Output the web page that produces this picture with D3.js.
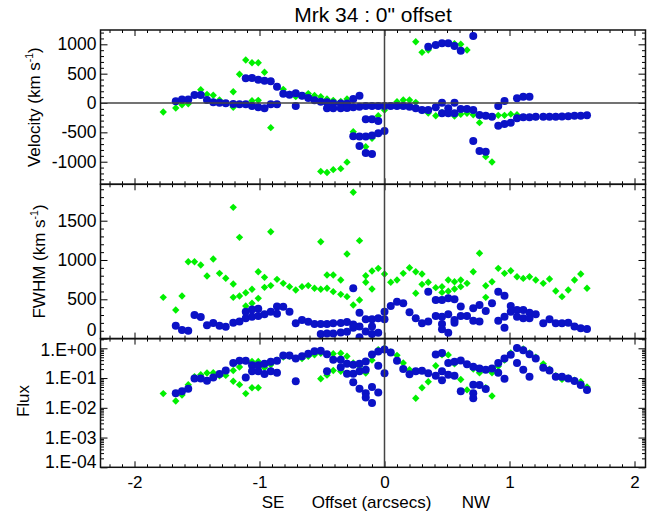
<!DOCTYPE html>
<html><head><meta charset="utf-8">
<script src="https://cdn.jsdelivr.net/npm/d3@7"></script>
<style>
body{margin:0;background:#fff}
svg{display:block}
text{font-family:"Liberation Sans",Arial,Helvetica,sans-serif;fill:#000}
</style>
</head><body>
<svg id="c" width="651" height="517"></svg>
<script>
// ---------- DATA (offset in arcsec, value) ----------
const title = "Mrk 34 : 0\" offset";
const xTickValues = [-2, -1, 0, 1, 2];
const xTickLabels = ["-2", "-1", "0", "1", "2"];
const velTickValues = [-1000, -500, 0, 500, 1000];
const fwhmTickValues = [0, 500, 1000, 1500];
const fluxTickValues = [1e-4, 1e-3, 1e-2, 1e-1, 1];
const fluxTickLabels = ["1.E-04", "1.E-03", "1.E-02", "1.E-01", "1.E+00"];

const velBlue = [[-1.67,29],[-1.62,58],[-1.57,58],[-1.52,136],[-1.47,136],[-1.42,51],[-1.37,11],[-1.32,6],[-1.27,-6],[-1.21,-17],[-1.16,-23],[-1.11,-23],[-1.11,420],[-1.06,-51],[-1.06,426],[-1.01,-74],[-1.01,398],[-0.96,-91],[-0.96,381],[-0.91,-23],[-0.91,369],[-0.86,-23],[-0.86,278],[-0.81,159],[-0.76,142],[-0.71,165],[-0.71,-51],[-0.66,125],[-0.61,85],[-0.56,45],[-0.51,23],[-0.46,15],[-0.46,-91],[-0.41,-5],[-0.41,-91],[-0.35,-8],[-0.35,-91],[-0.30,-10],[-0.30,-85],[-0.25,68],[-0.25,-74],[-0.25,-565],[-0.20,125],[-0.20,-63],[-0.20,-570],[-0.20,-733],[-0.15,-51],[-0.15,-278],[-0.15,-570],[-0.15,-850],[-0.10,-51],[-0.10,-278],[-0.10,-555],[-0.10,-870],[-0.05,-51],[-0.05,-305],[-0.05,-515],[0,-51],[0,-477],
[0.05,-51],[0.10,-51],[0.15,-51],[0.20,-63],[0.25,-91],[0.30,-119],[0.35,-119],[0.35,959],[0.41,-74],[0.41,988],[0.46,6],[0.46,-176],[0.46,1017],[0.51,-91],[0.51,-176],[0.51,1017],[0.56,6],[0.56,-176],[0.56,971],[0.61,-102],[0.61,891],[0.66,-102],[0.71,-119],[0.71,1141],[0.71,-648],[0.76,-204],[0.76,-818],[0.81,-216],[0.81,-829],[0.86,-233],[0.91,-51],[0.91,-386],[0.96,34],[0.96,-358],[1.01,-335],[1.06,80],[1.06,-261],[1.11,108],[1.11,-244],[1.16,108],[1.16,-244],[1.21,-233],[1.27,-233],[1.32,-233],[1.37,-233],[1.42,-230],[1.47,-225],[1.52,-218],[1.57,-215],[1.62,-210]];

const velGreen = [[-1.77,-153],[-1.67,-85],[-1.62,-29],[-1.57,-12],[-1.47,227],[-1.42,148],[-1.37,131],[-1.32,51],[-1.21,193],[-1.21,-73],[-1.16,489],[-1.11,733],[-1.06,687],[-1.06,40],[-1.01,687],[-1.01,45],[-0.96,523],[-0.91,-420],[-0.81,233],[-0.76,150],[-0.71,110],[-0.66,120],[-0.61,160],[-0.56,130],[-0.51,107],[-0.46,68],[-0.41,45],[-0.35,25],[-0.30,68],
[-0.51,-1165],[-0.46,-1185],[-0.41,-1135],[-0.35,-1118],[-0.30,-1008],[-0.25,-489],[-0.15,-744],[-0.10,-602],[-0.05,-216],[0,-119],
[0.10,23],[0.15,51],[0.20,51],[0.25,11],[0.25,1045],[0.30,863],[0.35,903],[0.56,1010],[0.61,1000],[0.66,903],
[0.30,-130],[0.35,-170],[0.41,-216],[0.46,-160],[0.51,-180],[0.56,-221],[0.61,-193],[0.66,-176],[0.71,-200],[0.76,-335],[0.81,-914],[0.86,-1005],[0.91,-210],[0.96,-210],[1.01,-190],[1.06,-200],[1.11,-240],[1.16,-240],[1.21,-240],[1.27,-230],[1.32,-230],[1.37,-230],[1.42,-230],[1.47,-220],[1.52,-215],[1.57,-215]];

const fwhmBlue = [[-1.67,165],[-1.62,110],[-1.57,100],[-1.52,300],[-1.47,275],[-1.42,170],[-1.37,200],[-1.32,165],[-1.27,152],[-1.21,203],[-1.16,216],[-1.11,258],[-1.11,340],[-1.06,279],[-1.06,370],[-1.01,288],[-1.01,380],[-0.96,310],[-0.91,342],[-0.86,409],[-0.86,315],[-0.81,406],[-0.76,343],[-0.71,195],[-0.66,238],[-0.61,215],[-0.56,186],[-0.51,186],[-0.51,58],[-0.46,186],[-0.46,66],[-0.41,195],[-0.41,66],[-0.35,200],[-0.35,79],[-0.30,210],[-0.30,88],[-0.25,640],[-0.25,180],[-0.25,139],[-0.20,330],[-0.20,153],[-0.20,17],[-0.15,246],[-0.15,89],[-0.10,246],[-0.10,153],[-0.10,59],[-0.05,258],[-0.05,76],[0,342],[0,246],
[0.05,415],[0.10,470],[0.15,449],[0.20,334],[0.25,258],[0.30,195],[0.35,216],[0.35,597],[0.41,288],[0.41,491],[0.46,279],[0.46,491],[0.46,186],[0.46,118],[0.51,309],[0.51,512],[0.51,76],[0.56,500],[0.56,237],[0.56,203],[0.61,407],[0.61,288],[0.66,288],[0.71,386],[0.71,228],[0.76,428],[0.76,216],[0.81,351],[0.86,449],[0.91,597],[0.91,228],[0.96,546],[0.96,279],[0.96,139],[1.01,415],[1.01,342],[1.06,364],[1.06,279],[1.11,364],[1.11,258],[1.16,330],[1.16,258],[1.21,309],[1.27,195],[1.32,246],[1.37,195],[1.42,195],[1.47,203],[1.52,153],[1.57,131],[1.62,122]];

const fwhmGreen = [[-1.77,525],[-1.67,364],[-1.62,542],[-1.57,978],[-1.52,978],[-1.47,936],[-1.42,796],[-1.37,1012],[-1.32,830],[-1.27,767],[-1.21,1670],[-1.21,694],[-1.21,525],[-1.16,1288],[-1.16,542],[-1.11,584],[-1.11,415],[-1.06,627],[-1.06,449],[-1.01,851],[-1.01,512],[-0.96,779],[-0.96,652],[-0.91,1360],[-0.91,674],[-0.86,754],[-0.81,703],[-0.76,661],[-0.71,619],[-0.66,661],[-0.61,674],[-0.56,640],[-0.51,1233],[-0.51,627],[-0.46,809],[-0.46,640],[-0.41,809],[-0.41,597],[-0.35,745],[-0.35,563],[-0.30,1076],[-0.30,534],[-0.25,1861],[-0.25,428],[-0.20,1246],[-0.20,491],[-0.15,800],[-0.15,716],[-0.10,860],[-0.10,631],[-0.05,894],[0,822],
[0.05,716],[0.10,745],[0.15,830],[0.20,902],[0.25,851],[0.25,576],[0.30,822],[0.30,690],[0.35,716],[0.41,648],[0.46,661],[0.46,588],[0.51,745],[0.51,602],[0.56,724],[0.56,631],[0.61,745],[0.61,661],[0.66,703],[0.71,851],[0.76,1085],[0.81,673],[0.81,525],[0.86,724],[0.91,894],[0.96,830],[1.01,864],[1.06,787],[1.11,766],[1.16,787],[1.21,745],[1.27,703],[1.32,758],[1.37,605],[1.42,534],[1.47,618],[1.52,745],[1.57,822],[1.62,640]];

const fluxBlue = [[-1.67,0.031],[-1.62,0.036],[-1.57,0.044],[-1.52,0.096],[-1.47,0.096],[-1.42,0.081],[-1.37,0.105],[-1.32,0.137],[-1.27,0.18],[-1.21,0.32],[-1.16,0.38],[-1.11,0.38],[-1.11,0.105],[-1.06,0.27],[-1.06,0.17],[-1.01,0.27],[-1.01,0.17],[-0.96,0.30],[-0.96,0.137],[-0.91,0.35],[-0.91,0.17],[-0.86,0.38],[-0.86,0.15],[-0.81,0.57],[-0.76,0.57],[-0.71,0.45],[-0.71,0.078],[-0.66,0.54],[-0.61,0.65],[-0.56,0.79],[-0.51,0.82],[-0.46,0.63],[-0.46,0.17],[-0.41,0.41],[-0.35,0.41],[-0.35,0.23],[-0.30,0.30],[-0.30,0.14],[-0.25,0.28],[-0.25,0.14],[-0.25,0.072],[-0.20,0.30],[-0.20,0.17],[-0.20,0.044],[-0.15,0.36],[-0.15,0.19],[-0.15,0.031],[-0.15,0.022],[-0.10,0.62],[-0.10,0.05],[-0.10,0.0145],[-0.05,0.78],[-0.05,0.26],[-0.05,0.033],[0,0.92],[0,0.145],
[0.05,0.72],[0.10,0.38],[0.15,0.2],[0.20,0.135],[0.25,0.17],[0.30,0.175],[0.35,0.145],[0.41,0.62],[0.41,0.12],[0.46,0.69],[0.46,0.17],[0.46,0.085],[0.51,0.32],[0.51,0.13],[0.56,0.35],[0.56,0.12],[0.61,0.39],[0.61,0.036],[0.66,0.29],[0.71,0.24],[0.71,0.06],[0.71,0.031],[0.71,0.021],[0.76,0.21],[0.76,0.058],[0.81,0.19],[0.81,0.043],[0.86,0.21],[0.91,0.32],[0.91,0.15],[0.96,0.45],[0.96,0.095],[1.01,0.61],[1.06,1.02],[1.06,0.32],[1.11,0.86],[1.11,0.19],[1.16,0.63],[1.16,0.11],[1.21,0.45],[1.27,0.22],[1.32,0.18],[1.37,0.11],[1.42,0.11],[1.47,0.096],[1.52,0.08],[1.57,0.058],[1.62,0.04]];

const fluxGreen = [[-1.77,0.030],[-1.67,0.017],[-1.62,0.027],[-1.57,0.060],[-1.52,0.11],[-1.47,0.13],[-1.42,0.148],[-1.37,0.15],[-1.32,0.12],[-1.27,0.123],[-1.21,0.18],[-1.21,0.078],[-1.16,0.235],[-1.16,0.060],[-1.11,0.030],[-1.06,0.36],[-1.06,0.047],[-1.01,0.36],[-1.01,0.047],[-0.96,0.22],[-0.91,0.28],[-0.86,0.4],[-0.81,0.51],[-0.76,0.54],[-0.71,0.45],[-0.66,0.45],[-0.61,0.54],[-0.56,0.61],[-0.51,0.68],[-0.51,0.095],[-0.46,0.125],[-0.41,0.66],[-0.41,0.18],[-0.35,0.68],[-0.35,0.17],[-0.30,0.54],[-0.25,0.32],[-0.20,0.25],[-0.15,0.148],[-0.10,0.4],[-0.05,0.9],[0,1.0],
[0.05,0.75],[0.10,0.58],[0.15,0.32],[0.20,0.19],[0.25,0.021],[0.30,0.047],[0.35,0.075],[0.41,0.26],[0.46,0.6],[0.51,0.6],[0.56,0.3],[0.61,0.089],[0.66,0.04],[0.71,0.2],[0.76,0.15],[0.81,0.047],[0.86,0.025],[0.86,0.15],[0.91,0.25],[0.96,0.4],[1.01,0.7],[1.06,1.05],[1.11,0.95],[1.16,0.7],[1.21,0.5],[1.27,0.3],[1.32,0.2],[1.37,0.12],[1.42,0.09],[1.47,0.1],[1.52,0.085],[1.57,0.075],[1.62,0.05]];

// ---------- LAYOUT ----------
const svg = d3.select("#c");
const L = 100.5, R = 645.5;
const T1 = 30, T2 = 184.3, T3 = 338.6, T4 = 467.3;
const BLUE = "#0b12c6", GREEN = "#00f000";

const x = d3.scaleLinear().domain([-2.272, 2.088]).range([L, R]);
const yV = d3.scaleLinear().domain([-1385, 1244]).range([T2, T1]);
const yW = d3.scaleLinear().domain([0, 1963]).range([T3, T2]);
const yF = d3.scaleLog().domain([1e-4, 2.12]).range([T4, T3]);

const xMinor = d3.range(-22, 21).map(i => i / 10).filter(v => Math.abs(v - Math.round(v)) > 1e-6);
const velMinor = d3.range(-1300, 1300, 100).filter(v => v % 500 !== 0);
const fwMinor = d3.range(100, 2000, 100).filter(v => v % 500 !== 0);
const fluxMinor = [];
[-4, -3, -2, -1, 0].forEach(e => { for (let m = 2; m <= 9; m++) { const v = m * Math.pow(10, e); if (v <= 2.12) fluxMinor.push(v); } });

function clean(g) { g.select(".domain").remove(); g.selectAll("line").attr("stroke", "#000").attr("stroke-width", 1); }

const panels = [
  {y: yV, top: T1, bot: T2, major: velTickValues, minor: velMinor, fmt: d => String(d), shiftMin: 0, shiftMax: 0},
  {y: yW, top: T2, bot: T3, major: fwhmTickValues, minor: fwMinor, fmt: d => String(d), shiftMin: -8.5, shiftMax: 0},
  {y: yF, top: T3, bot: T4, major: fluxTickValues, minor: fluxMinor, fmt: d => fluxTickLabels[fluxTickValues.indexOf(d)], shiftMin: -5, shiftMax: 2}
];

panels.forEach((p, i) => {
  const gl = svg.append("g").attr("transform", `translate(${L},0)`)
    .call(d3.axisLeft(p.y).tickValues(p.major).tickSize(-7).tickPadding(4).tickFormat(p.fmt)).call(clean);
  const dmin = p.major[0], dmax = p.major[p.major.length - 1];
  gl.selectAll("text").attr("font-size", 17.5).attr("fill", "#000")
    .attr("transform", d => d === dmin ? `translate(0,${p.shiftMin})` : (d === dmax ? `translate(0,${p.shiftMax})` : null));
  svg.append("g").attr("transform", `translate(${L},0)`)
    .call(d3.axisLeft(p.y).tickValues(p.minor).tickSize(-3.5).tickFormat("")).call(clean);
  svg.append("g").attr("transform", `translate(${R},0)`)
    .call(d3.axisRight(p.y).tickValues(p.major).tickSize(-7).tickFormat("")).call(clean);
  svg.append("g").attr("transform", `translate(${R},0)`)
    .call(d3.axisRight(p.y).tickValues(p.minor).tickSize(-3.5).tickFormat("")).call(clean);
  svg.append("g").attr("transform", `translate(0,${p.top})`)
    .call(d3.axisTop(x).tickValues(xTickValues).tickSize(-6).tickFormat("")).call(clean);
  svg.append("g").attr("transform", `translate(0,${p.top})`)
    .call(d3.axisTop(x).tickValues(xMinor).tickSize(-3).tickFormat("")).call(clean);
  const gb = svg.append("g").attr("transform", `translate(0,${p.bot})`)
    .call(d3.axisBottom(x).tickValues(xTickValues).tickSize(-6).tickPadding(9)
      .tickFormat(i === 2 ? (d => xTickLabels[xTickValues.indexOf(d)]) : "")).call(clean);
  gb.selectAll("text").attr("font-size", 17).attr("fill", "#000");
  svg.append("g").attr("transform", `translate(0,${p.bot})`)
    .call(d3.axisBottom(x).tickValues(xMinor).tickSize(-3).tickFormat("")).call(clean);
});

const diamond = {draw(ctx, size) { const h = Math.sqrt(size / 2); ctx.moveTo(0, -h); ctx.lineTo(h, 0); ctx.lineTo(0, h); ctx.lineTo(-h, 0); ctx.closePath(); }};
const dPath = d3.symbol().type(diamond).size(2 * 3.7 * 3.7)();

function drawMarks(id, top, bot, yScale, green, blue) {
  svg.append("clipPath").attr("id", id).append("rect").attr("x", L).attr("y", top).attr("width", R - L).attr("height", bot - top);
  const g = svg.append("g").attr("clip-path", `url(#${id})`);
  g.selectAll("path.g").data(green).join("path").attr("class", "g").attr("d", dPath)
    .attr("transform", d => `translate(${x(d[0])},${yScale(d[1])})`).attr("fill", GREEN);
  g.selectAll("circle").data(blue).join("circle")
    .attr("cx", d => x(d[0])).attr("cy", d => yScale(d[1])).attr("r", 4).attr("fill", BLUE);
}
drawMarks("cp1", T1, T2, yV, velGreen, velBlue);
drawMarks("cp2", T2, T3, yW, fwhmGreen, fwhmBlue);
drawMarks("cp3", T3, T4, yF, fluxGreen, fluxBlue);

svg.append("line").attr("x1", x(0)).attr("x2", x(0)).attr("y1", T1).attr("y2", T4).attr("stroke", "#444").attr("stroke-width", 1.5);
svg.append("line").attr("x1", L).attr("x2", R).attr("y1", yV(0)).attr("y2", yV(0)).attr("stroke", "#444").attr("stroke-width", 1.5);

[[T1, T2], [T2, T3], [T3, T4]].forEach(([a, b]) => {
  svg.append("rect").attr("x", L).attr("y", a).attr("width", R - L).attr("height", b - a)
    .attr("fill", "none").attr("stroke", "#111").attr("stroke-width", 1.5);
});

svg.append("text").attr("x", (L + R) / 2).attr("y", 22).attr("text-anchor", "middle").attr("font-size", 21).text(title);

function yTitle(cx, cy, main, sup) {
  const t = svg.append("text").attr("transform", `translate(${cx},${cy}) rotate(-90)`).attr("text-anchor", "middle").attr("font-size", 17);
  t.append("tspan").text(main);
  if (sup) {
    t.append("tspan").attr("font-size", 10.5).attr("dy", -7).text(sup);
    t.append("tspan").attr("dy", 7).text(")");
  }
}
yTitle(40, (T1 + T2) / 2, "Velocity (km s", "-1");
yTitle(45, (T2 + T3) / 2, "FWHM (km s", "-1");
yTitle(28.5, 401, "Flux", null);

svg.append("text").attr("x", 261.7).attr("y", 507.5).attr("font-size", 17).text("SE");
svg.append("text").attr("x", 311.7).attr("y", 507.5).attr("font-size", 17).text("Offset (arcsecs)");
svg.append("text").attr("x", 461.7).attr("y", 507.5).attr("font-size", 17).text("NW");
</script>
</body></html>
